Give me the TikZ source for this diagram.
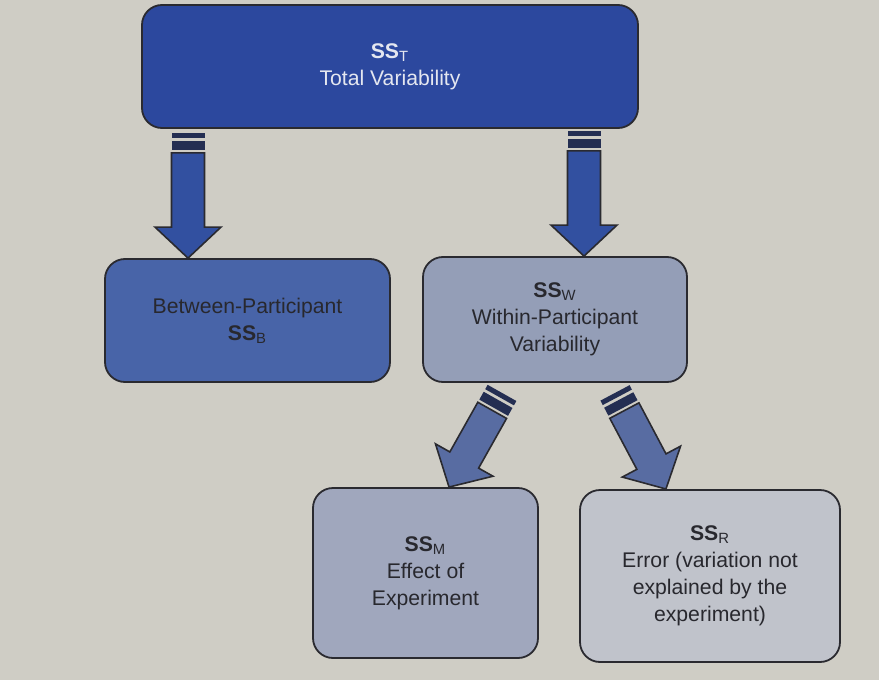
\documentclass[tikz,border=0pt]{standalone}
\usepackage{fontspec}
\setmainfont{Liberation Sans}
\usetikzlibrary{calc}

\definecolor{paper}{RGB}{207,205,197}
\definecolor{edge}{RGB}{42,42,48}
\definecolor{ink}{RGB}{40,40,46}
\definecolor{toptext}{RGB}{228,231,240}
\definecolor{topblue}{RGB}{44,72,158}
\definecolor{midblue}{RGB}{72,100,168}
\definecolor{greyblue}{RGB}{148,158,183}
\definecolor{paleblue}{RGB}{160,167,189}
\definecolor{palegrey}{RGB}{192,195,203}
\definecolor{arrblue}{RGB}{50,80,160}
\definecolor{arrslate}{RGB}{88,108,162}
\definecolor{band}{RGB}{36,46,82}

% block arrow with two bands at its tail: from, to, fill, band colour
\newcommand{\bandarrow}[4]{%
  \path let \p1=(#1), \p2=(#2) in \pgfextra{%
    \pgfmathsetmacro{\arrang}{atan2(\y2-\y1,\x2-\x1)}%
    \pgfmathsetmacro{\arrtip}{veclen(\x2-\x1,\y2-\y1)}%
    \pgfmathsetmacro{\arrhead}{\arrtip-15.5}%
    \global\let\arrang\arrang\global\let\arrtip\arrtip\global\let\arrhead\arrhead};
  \begin{scope}[shift={(#1)},rotate=\arrang]
    \fill[#4] (0pt,-8.25pt) rectangle (2.5pt,8.25pt);
    \fill[#4] (4pt,-8.25pt) rectangle (8.5pt,8.25pt);
    \draw[fill=#3,draw=edge,line width=0.8pt,line join=miter]
      (10pt,-8.25pt) -- (\arrhead pt,-8.25pt) -- (\arrhead pt,-16.5pt) -- (\arrtip pt,0pt)
      -- (\arrhead pt,16.5pt) -- (\arrhead pt,8.25pt) -- (10pt,8.25pt) -- cycle;
  \end{scope}}

\begin{document}
\begin{tikzpicture}[x=0.5pt,y=-0.5pt,
ssbox/.style={draw=edge,rectangle,rounded corners=10pt,line width=0.9pt,align=center,
  text=ink,font=\fontsize{10.6}{13.5}\selectfont,inner sep=2pt}]

\fill[paper] (0,0) rectangle (879,680);

\draw (390,66.5) node[ssbox,fill=topblue,text=toptext,minimum width=248pt,minimum height=61.5pt] (total)
  {\textbf{SS}\textsubscript{T}\\Total Variability};
\draw (247.5,320.5) node[ssbox,fill=midblue,minimum width=142.5pt,minimum height=61.5pt] (between)
  {Between-Participant\\\textbf{SS}\textsubscript{B}};
\draw (555,319.5) node[ssbox,fill=greyblue,minimum width=132pt,minimum height=62.5pt] (within)
  {\textbf{SS}\textsubscript{W}\\Within-Participant\\Variability};
\draw (425.5,573) node[ssbox,fill=paleblue,minimum width=112.5pt,minimum height=85pt] (effect)
  {\textbf{SS}\textsubscript{M}\\Effect of\\Experiment};
\draw (710,576) node[ssbox,fill=palegrey,minimum width=130pt,minimum height=86pt] (error)
  {\textbf{SS}\textsubscript{R}\\Error (variation not\\explained by the\\experiment)};

\coordinate (tl) at ($(total.south)+(-202,4)$);
\coordinate (tr) at ($(total.south)+(194,2)$);
\coordinate (wl) at ($(within.south)+(-53,10)$);
\coordinate (wr) at ($(within.south)+(60,10)$);
\coordinate (el) at ($(effect.north)+(23.5,0)$);
\coordinate (er) at ($(error.north)+(-44,0)$);

\bandarrow{tl}{tl |- between.north}{arrblue}{band}
\bandarrow{tr}{tr |- within.north}{arrblue}{band}
\bandarrow{wl}{el}{arrslate}{band}
\bandarrow{wr}{er}{arrslate}{band}
\end{tikzpicture}
\end{document}
